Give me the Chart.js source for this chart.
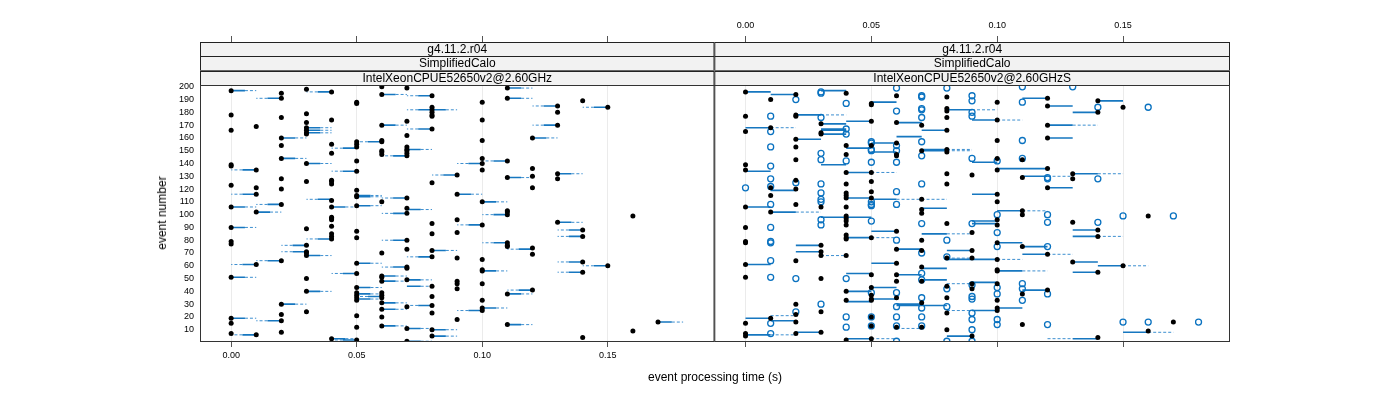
<!DOCTYPE html>
<html>
<head>
<meta charset="utf-8">
<script src="https://cdn.jsdelivr.net/npm/chart.js"></script>
<style>
  body { margin: 0; background: #fff; width: 1400px; height: 400px; position: relative; overflow: hidden;
         font-family: "Liberation Sans", Arial, sans-serif; }
  canvas { position: absolute; top: 0; }
  /* Chart.js keeps ~3-4px inner padding, so the canvases overlap a little
     to put the plot areas at 200-714 and 714-1230 */
  #leftChart { left: 0; }
  #rightChart { left: 710px; }
  .title { position: absolute; font-size: 12px; color: #000; white-space: nowrap; }
  #xtitle { left: 715px; top: 370px; transform: translateX(-50%); }
  #ytitle { left: 162px; top: 213px; transform: translate(-50%, -50%) rotate(-90deg); }
</style>
</head>
<body>
<canvas id="leftChart" width="717" height="400"></canvas>
<canvas id="rightChart" width="690" height="400"></canvas>
<div class="title" id="xtitle">event processing time (s)</div>
<div class="title" id="ytitle">event number</div>
<script>
// time bins (s)
const times = [0.00, 0.01, 0.02, 0.03, 0.04, 0.05, 0.06, 0.07, 0.08, 0.09,
               0.10, 0.11, 0.12, 0.13, 0.14, 0.15, 0.16, 0.17, 0.18];
const xTicks = [0, 0.05, 0.10, 0.15];
const yTicks = [10, 20, 30, 40, 50, 60, 70, 80, 90, 100, 110, 120, 130, 140, 150, 160, 170, 180, 190, 200];

const stripLeft = ["g4.11.2.r04", "SimplifiedCalo", "IntelXeonCPUE52650v2@2.60GHz"];
const stripRight = ["g4.11.2.r04", "SimplifiedCalo", "IntelXeonCPUE52650v2@2.60GHzS"];

// left panel: event numbers at each time bin
const leftFilled = [
  [197, 178, 166, 139, 138, 123, 106, 90, 79, 77, 51, 19, 15, 7],
  [169, 135, 121, 116, 102, 61, 6],
  [195, 191, 176, 160, 154, 144, 128, 120, 108, 64, 30, 22, 17, 8],
  [198, 179, 172, 168, 166, 164, 163, 140, 126, 89, 76, 71, 70, 68, 50, 40, 24],
  [196, 174, 155, 148, 127, 126, 124, 111, 106, 98, 97, 96, 91, 85, 83, 81, 3],
  [188, 187, 157, 155, 153, 142, 134, 119, 115, 114, 107, 87, 82, 62, 54, 43, 39, 37, 35, 33, 21, 12, 2],
  [200, 194, 170, 158, 157, 150, 149, 147, 110, 70, 52, 51, 48, 39, 37, 35, 31, 26, 20, 13],
  [199, 173, 162, 153, 151, 150, 148, 146, 113, 105, 101, 80, 73, 59, 58, 49, 28, 11, 1],
  [193, 184, 182, 180, 178, 177, 167, 125, 93, 85, 72, 67, 44, 36, 29, 23, 10, 5],
  [131, 116, 96, 86, 66, 48, 46, 42, 18],
  [188, 174, 158, 144, 140, 135, 110, 92, 65, 57, 56, 46, 33, 27, 25],
  [199, 191, 142, 129, 103, 102, 100, 78, 76, 75, 38, 14],
  [160, 136, 130, 121, 74, 69, 41],
  [185, 180, 170, 132, 128, 94],
  [189, 88, 83, 63, 55, 4],
  [184, 60],
  [99, 9],
  [16],
  []
];

// left panel segments: [event, time at point, time at far end]
const leftSegs = [
  [197, 0.00, 0.01], [191, 0.02, 0.01], [196, 0.04, 0.03], [168, 0.03, 0.04], [166, 0.03, 0.04],
  [164, 0.03, 0.04], [160, 0.02, 0.03], [144, 0.02, 0.03], [140, 0.03, 0.04], [135, 0.01, 0.00],
  [134, 0.05, 0.04], [152, 0.05, 0.04], [157, 0.06, 0.05], [146, 0.07, 0.06], [151, 0.07, 0.08],
  [170, 0.06, 0.07], [167, 0.08, 0.07], [194, 0.06, 0.07], [193, 0.08, 0.07], [182, 0.08, 0.07],
  [182, 0.08, 0.09], [116, 0.01, 0.00], [112, 0.04, 0.03], [115, 0.05, 0.06], [114, 0.05, 0.06],
  [113, 0.07, 0.06], [106, 0.04, 0.05], [106, 0.00, 0.01], [108, 0.02, 0.01], [102, 0.01, 0.02],
  [90, 0.00, 0.01], [76, 0.03, 0.02], [71, 0.03, 0.02], [68, 0.03, 0.04], [81, 0.04, 0.03],
  [61, 0.01, 0.00], [64, 0.02, 0.01], [51, 0.00, 0.01], [40, 0.03, 0.04], [54, 0.05, 0.04],
  [30, 0.02, 0.03], [19, 0.00, 0.01], [17, 0.02, 0.01], [6, 0.01, 0.00], [3, 0.04, 0.05],
  [2, 0.05, 0.04], [107, 0.05, 0.06], [43, 0.05, 0.06], [38, 0.05, 0.06], [36, 0.06, 0.05],
  [34, 0.05, 0.06], [52, 0.06, 0.07], [48, 0.06, 0.07], [31, 0.06, 0.07], [26, 0.06, 0.07],
  [13, 0.06, 0.07], [62, 0.05, 0.06], [101, 0.07, 0.06], [80, 0.07, 0.06], [59, 0.07, 0.06],
  [49, 0.07, 0.08], [67, 0.08, 0.07], [72, 0.08, 0.09], [44, 0.07, 0.08], [29, 0.08, 0.07],
  [11, 0.07, 0.08], [10, 0.08, 0.09], [5, 0.08, 0.09], [1, 0.07, 0.08], [104, 0.07, 0.08],
  [140, 0.10, 0.09], [142, 0.11, 0.10], [131, 0.09, 0.08], [129, 0.11, 0.12], [116, 0.09, 0.10],
  [110, 0.10, 0.11], [185, 0.13, 0.12], [184, 0.15, 0.14], [170, 0.13, 0.12], [160, 0.12, 0.13],
  [132, 0.13, 0.14], [199, 0.11, 0.12], [191, 0.11, 0.12], [100, 0.11, 0.10], [92, 0.10, 0.09],
  [78, 0.11, 0.10], [73, 0.12, 0.11], [56, 0.10, 0.11], [41, 0.12, 0.11], [38, 0.11, 0.12],
  [27, 0.10, 0.11], [25, 0.10, 0.09], [14, 0.11, 0.12], [94, 0.13, 0.14], [88, 0.14, 0.13],
  [83, 0.14, 0.13], [63, 0.14, 0.13], [60, 0.15, 0.14], [55, 0.14, 0.13], [16, 0.17, 0.18]
];

// right panel: filled (black) and open (blue) points
const rightFilled = [
  [196, 177, 165, 139, 135, 106, 90, 79, 78, 61, 51, 15, 7, 5],
  [190, 168, 121, 115, 102, 19],
  [194, 178, 177, 159, 153, 143, 127, 120, 108, 64, 30, 22, 16, 7],
  [171, 164, 163, 106, 76, 71, 68, 50, 24, 8],
  [195, 154, 147, 133, 124, 117, 115, 113, 106, 99, 97, 95, 92, 84, 82, 81, 68, 40, 33, 2],
  [187, 186, 173, 154, 133, 126, 118, 113, 82, 53, 43, 37, 34, 33, 20, 13, 3],
  [193, 172, 156, 147, 146, 87, 73, 62, 53, 48, 35, 12],
  [170, 150, 112, 104, 101, 80, 72, 59, 48, 31, 12],
  [192, 183, 181, 176, 166, 151, 149, 132, 124, 93, 66, 44, 35, 23, 10],
  [131, 86, 72, 66, 46, 42, 5],
  [188, 174, 158, 144, 135, 116, 110, 96, 92, 78, 65, 57, 56, 46, 33, 27, 25],
  [143, 129, 103, 100, 75, 38, 14],
  [191, 185, 170, 160, 136, 121, 69, 41],
  [132, 128, 94, 63],
  [189, 180, 88, 83, 55, 4],
  [184, 60],
  [99, 9],
  [16],
  []
];
const rightOpen = [
  [121],
  [177, 165, 153, 138, 128, 122, 108, 90, 79, 78, 64, 51, 15, 7],
  [190, 125, 50, 24],
  [196, 195, 176, 148, 143, 124, 117, 112, 110, 96, 92, 30],
  [187, 167, 163, 142, 50, 20, 12],
  [157, 156, 151, 150, 141, 110, 108, 107, 95, 39, 20, 13],
  [199, 181, 154, 150, 141, 118, 108, 80, 39, 28, 20, 13, 1],
  [193, 192, 183, 182, 176, 157, 146, 124, 93, 70, 54, 49, 35, 27, 20, 13],
  [199, 80, 67, 42, 28, 1],
  [193, 189, 180, 177, 144, 93, 45, 36, 34, 23, 18, 10, 1],
  [142, 100, 86, 75, 43, 38, 18, 14],
  [200, 188, 158, 144, 46, 42, 33],
  [129, 128, 100, 94, 75, 38, 14],
  [200],
  [184, 128, 94],
  [99, 16],
  [184, 16],
  [99],
  [16]
];

// right panel segments: [event, from, to]
const rightSolid = [
  [196, 0.00, 0.01], [194, 0.01, 0.02], [197, 0.03, 0.04], [178, 0.02, 0.03], [171, 0.03, 0.04],
  [173, 0.04, 0.05], [168, 0.00, 0.01], [167, 0.03, 0.04], [166, 0.03, 0.04], [163, 0.03, 0.04],
  [159, 0.02, 0.03], [152, 0.04, 0.05], [156, 0.05, 0.06], [161, 0.06, 0.07], [149, 0.05, 0.06],
  [150, 0.07, 0.08], [151, 0.07, 0.08], [172, 0.06, 0.07], [166, 0.07, 0.08], [182, 0.08, 0.09],
  [188, 0.05, 0.06], [134, 0.00, 0.01], [139, 0.03, 0.04], [133, 0.04, 0.05], [119, 0.01, 0.02],
  [106, 0.00, 0.01], [113, 0.04, 0.05], [112, 0.05, 0.06], [105, 0.07, 0.08], [102, 0.01, 0.02],
  [98, 0.03, 0.04], [98, 0.04, 0.05], [87, 0.05, 0.06], [85, 0.07, 0.08], [82, 0.04, 0.05],
  [76, 0.02, 0.03], [71, 0.02, 0.03], [73, 0.06, 0.07], [72, 0.08, 0.09], [61, 0.00, 0.01],
  [62, 0.05, 0.06], [58, 0.07, 0.08], [54, 0.04, 0.05], [53, 0.06, 0.07], [49, 0.07, 0.08],
  [43, 0.05, 0.06], [40, 0.04, 0.05], [34, 0.05, 0.06], [32, 0.04, 0.05], [30, 0.06, 0.07],
  [29, 0.06, 0.08], [19, 0.00, 0.01], [17, 0.01, 0.02], [8, 0.02, 0.03], [6, 0.00, 0.01],
  [3, 0.04, 0.05], [5, 0.08, 0.09], [191, 0.11, 0.12], [189, 0.14, 0.15], [185, 0.12, 0.13],
  [180, 0.13, 0.14], [174, 0.09, 0.10], [170, 0.12, 0.13], [160, 0.12, 0.13], [141, 0.09, 0.10],
  [136, 0.10, 0.11], [136, 0.11, 0.12], [130, 0.11, 0.12], [132, 0.13, 0.14], [121, 0.12, 0.13],
  [116, 0.09, 0.10], [103, 0.10, 0.11], [95, 0.09, 0.10], [93, 0.09, 0.10], [88, 0.13, 0.14],
  [83, 0.13, 0.14], [78, 0.10, 0.11], [75, 0.11, 0.12], [69, 0.11, 0.12], [65, 0.08, 0.10],
  [63, 0.13, 0.14], [60, 0.14, 0.15], [56, 0.10, 0.11], [55, 0.13, 0.14], [47, 0.09, 0.10],
  [41, 0.11, 0.12], [27, 0.10, 0.11], [25, 0.09, 0.10], [8, 0.15, 0.16], [3, 0.13, 0.14]
];
const rightDashed = [
  [178, 0.03, 0.04], [168, 0.01, 0.02], [150, 0.08, 0.09], [133, 0.05, 0.06], [112, 0.06, 0.08],
  [102, 0.02, 0.03], [85, 0.08, 0.09], [82, 0.05, 0.06], [68, 0.03, 0.04], [66, 0.08, 0.09],
  [46, 0.08, 0.09], [25, 0.08, 0.09], [21, 0.01, 0.02], [11, 0.06, 0.07], [6, 0.01, 0.02],
  [3, 0.05, 0.06], [182, 0.09, 0.10], [174, 0.10, 0.11], [170, 0.13, 0.14], [151, 0.08, 0.09],
  [130, 0.12, 0.13], [132, 0.14, 0.15], [103, 0.11, 0.12], [83, 0.14, 0.15], [69, 0.12, 0.13],
  [65, 0.10, 0.11], [60, 0.15, 0.16], [56, 0.11, 0.12], [8, 0.16, 0.17], [3, 0.12, 0.13]
];

const xMin = -0.0124, xMax = 0.1925, yMin = 0.4, yMax = 201.4;
const blue = "#1677c0";

function dotPoints(cols) {
  const pts = [];
  cols.forEach((evs, i) => evs.forEach(e => pts.push({ x: times[i], y: e })));
  return pts;
}
function segPoints(segs) {
  const pts = [];
  segs.forEach(([e, a, b]) => pts.push({ x: a, y: e }, { x: b, y: e }, { x: b, y: null }));
  return pts;
}
// left panel: solid near the point, dashed toward the far end
const leftSolidSegs = leftSegs.map(([e, p, f]) => [e, p, p + (f - p) * 0.55]);
const leftDashSegs = leftSegs.map(([e, p, f]) => [e, p + (f - p) * 0.55, f]);

function segSet(segs, dashed) {
  return {
    type: "line", data: segPoints(segs), order: 3, spanGaps: false,
    borderColor: dashed ? "#3d8fd0" : blue, borderWidth: dashed ? 1 : 1.6,
    borderDash: dashed ? [3, 2] : [], pointRadius: 0, fill: false, tension: 0
  };
}
function dotSet(cols, open) {
  return {
    type: "scatter", data: dotPoints(cols), order: open ? 2 : 1,
    pointRadius: open ? 3 : 2.5, pointHoverRadius: 0,
    backgroundColor: open ? "rgba(0,0,0,0)" : "#000",
    borderColor: open ? "#0a72c0" : "#000", borderWidth: open ? 1.3 : 0
  };
}

const setTicks = vals => axis => { axis.ticks = vals.map(v => ({ value: v })); };
const fmt = v => Number(v).toFixed(2);

function scales(topLabels, bottomLabels, showY) {
  return {
    x: {
      type: "linear", position: "bottom", min: xMin, max: xMax,
      afterBuildTicks: setTicks(xTicks), afterFit: s => { s.height = 58; },
      ticks: { display: bottomLabels, callback: fmt, font: { size: 9 }, color: "#000", padding: 3, maxRotation: 0, autoSkip: false },
      grid: { color: "#ebebeb", tickColor: "#555", tickLength: 5, drawOnChartArea: true },
      border: { display: false }
    },
    xt: {
      type: "linear", position: "top", weight: 2, min: xMin, max: xMax,
      afterBuildTicks: setTicks(xTicks), afterFit: s => { s.height = 42; },
      ticks: { display: topLabels, callback: fmt, font: { size: 9 }, color: "#000", padding: 5, maxRotation: 0, autoSkip: false },
      grid: { drawOnChartArea: false, tickColor: "#555", tickLength: 6 },
      border: { display: false }
    },
    xs: {
      type: "linear", position: "top", weight: 1, min: xMin, max: xMax,
      afterFit: s => { s.height = 43; },
      ticks: { display: false }, grid: { display: false }, border: { display: false }
    },
    y: {
      type: "linear", display: showY, min: yMin, max: yMax,
      afterBuildTicks: setTicks(yTicks), afterFit: s => { s.width = showY ? 200 : 0; },
      ticks: { font: { size: 9 }, color: "#000", padding: 6, autoSkip: false },
      grid: { display: false, drawTicks: false }, border: { display: false }
    }
  };
}

const panelPlugin = {
  id: "panel",
  afterDraw(chart, args, opts) {
    const ctx = chart.ctx, ca = chart.chartArea, s = chart.scales.xs;
    const h = (s.bottom - s.top) / opts.labels.length;
    ctx.save();
    opts.labels.forEach((lab, i) => {
      const y0 = s.top + i * h;
      ctx.fillStyle = "#f2f2f2";
      ctx.fillRect(ca.left, y0, ca.right - ca.left, h);
      ctx.strokeStyle = "#222";
      ctx.lineWidth = 1;
      ctx.strokeRect(ca.left + 0.5, Math.round(y0) + 0.5, ca.right - ca.left - 1, Math.round(h));
      ctx.fillStyle = "#000";
      ctx.font = '12px "Liberation Sans", Arial, sans-serif';
      ctx.textAlign = "center";
      ctx.textBaseline = "middle";
      ctx.fillText(lab, (ca.left + ca.right) / 2, y0 + h / 2 + 0.5);
    });
    ctx.strokeStyle = "#333";
    ctx.lineWidth = 1;
    ctx.strokeRect(ca.left + 0.5, ca.top + 0.5, ca.right - ca.left - 1, ca.bottom - ca.top - 1);
    ctx.restore();
  }
};

function makeChart(id, datasets, labels, topLabels, bottomLabels, showY, pad) {
  return new Chart(document.getElementById(id), {
    data: { datasets },
    plugins: [panelPlugin],
    options: {
      responsive: false, animation: false, devicePixelRatio: 1,
      layout: { padding: pad },
      plugins: { legend: { display: false }, tooltip: { enabled: false }, panel: { labels } },
      scales: scales(topLabels, bottomLabels, showY)
    }
  });
}

Chart.defaults.font.family = '"Liberation Sans", Arial, sans-serif';

makeChart("leftChart", [
  segSet(leftSolidSegs, false), segSet(leftDashSegs, true), dotSet(leftFilled, false)
], stripLeft, false, true, true, { left: 0, right: 0, top: 0, bottom: 0 });

makeChart("rightChart", [
  segSet(rightSolid, false), segSet(rightDashed, true), dotSet(rightOpen, true), dotSet(rightFilled, false)
], stripRight, true, false, false, { left: 0, right: 170, top: 0, bottom: 0 });
</script>
</body>
</html>
